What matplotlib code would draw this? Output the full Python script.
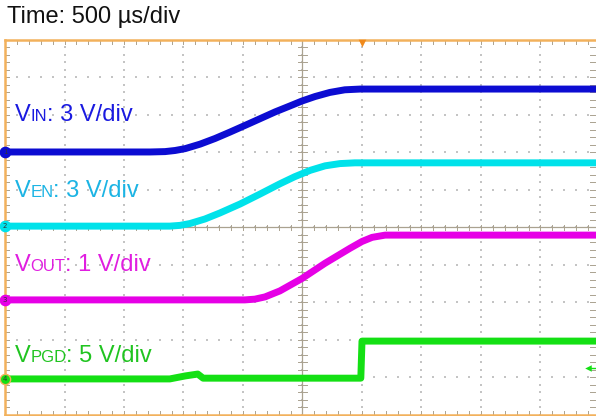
"""
Scope capture: power-up sequence (VIN, VEN, VOUT, VPGD)
"""
import matplotlib
matplotlib.use("Agg")
import matplotlib.pyplot as plt
import numpy as np

# screen units: x in divisions (500 us/div), y in divisions from bottom of screen
vin_t = [0.00, 2.44, 2.69, 2.86, 3.03, 3.28, 3.53, 3.78, 4.12, 4.54, 4.79, 4.99, 5.21, 5.46, 5.71, 5.97, 10.0]
vin_y = [7.01, 7.01, 7.02, 7.05, 7.10, 7.22, 7.37, 7.54, 7.78, 8.08, 8.24, 8.37, 8.49, 8.60, 8.67, 8.69, 8.69]

ven_t = [0.00, 2.77, 2.94, 3.11, 3.36, 3.61, 3.95, 4.29, 4.62, 4.87, 5.13, 5.38, 5.63, 5.88, 10.0]
ven_y = [5.03, 5.03, 5.05, 5.10, 5.22, 5.38, 5.62, 5.89, 6.16, 6.35, 6.52, 6.64, 6.70, 6.72, 6.72]

vout_t = [0.00, 4.03, 4.20, 4.37, 4.62, 4.99, 5.38, 5.80, 6.00, 6.17, 6.39, 10.0]
vout_y = [3.06, 3.06, 3.08, 3.14, 3.30, 3.63, 4.04, 4.44, 4.62, 4.73, 4.79, 4.79]

vpgd_t = [0.00, 2.77, 3.03, 3.24, 3.33, 5.98, 6.00, 10.0]
vpgd_y = [0.95, 0.95, 1.03, 1.08, 0.97, 0.97, 1.96, 1.96]

channels = [
    # (t, y, trace colour, label colour, subscript, scale text, label baseline y)
    (vin_t, vin_y, "#0c0cd2", "#1a1ae0", "IN", ": 3 V/div", 7.83),
    (ven_t, ven_y, "#00e2ea", "#1cb4e4", "EN", ": 3 V/div", 5.80),
    (vout_t, vout_y, "#e600e6", "#e01ee0", "OUT", ": 1 V/div", 3.82),
    (vpgd_t, vpgd_y, "#14e014", "#20c420", "PGD", ": 5 V/div", 1.40),
]

FRAME = "#f2b15c"
TICK = "#aaa290"
DOT = "#c4c4c4"

fig = plt.figure(figsize=(5.96, 4.16), dpi=100)
fig.patch.set_facecolor("white")
W, H = 596.0, 416.0
ax = fig.add_axes([5 / W, 1.5 / H, 595 / W, 374.5 / H])
ax.set_xlim(0, 10)
ax.set_ylim(0, 10)
ax.set_xticks([])
ax.set_yticks([])
for side in ["left", "top", "bottom"]:
    ax.spines[side].set_color(FRAME)
    ax.spines[side].set_linewidth(1.8)
ax.spines["right"].set_visible(False)

# dotted graticule
minor = np.arange(0, 10.01, 0.2)
for g in range(1, 10):
    ax.scatter(np.full(minor.size, g), minor, s=0.6, c=DOT, marker="s", lw=0, zorder=1)
    ax.scatter(minor, np.full(minor.size, g), s=0.6, c=DOT, marker="s", lw=0, zorder=1)

# centre crosshair with minor ticks
ax.axvline(5, color=TICK, lw=0.9, zorder=1)
ax.axhline(5, color=TICK, lw=0.9, zorder=1)
for m in minor:
    ax.plot([4.93, 5.07], [m, m], color=TICK, lw=0.7, zorder=1)
    ax.plot([m, m], [4.93, 5.07], color=TICK, lw=0.7, zorder=1)
    # edge ticks
    ax.plot([m, m], [9.9, 10], color=TICK, lw=0.7, zorder=1)
    ax.plot([m, m], [0, 0.1], color=TICK, lw=0.7, zorder=1)
    ax.plot([0, 0.06], [m, m], color=TICK, lw=0.7, zorder=1)
    ax.plot([9.84, 9.92], [m, m], color=TICK, lw=0.7, zorder=1)

# traces
for i, (t, y, col, lcol, sub, scale, ly) in enumerate(channels):
    ax.plot(t, y, color=col, lw=5.0, solid_capstyle="butt", solid_joinstyle="round", zorder=3)
    ax.scatter([0], [y[0]], s=55, c=col, edgecolors=FRAME if i == 3 else col,
               lw=1.0, zorder=5, clip_on=False)
    ax.text(0, y[0], str(i + 1), fontsize=5, color="#333333", ha="center",
            va="center", zorder=6, clip_on=False)

# trigger markers
ax.scatter([6.0], [9.93], marker="v", s=30, c="#f08a1c", lw=0, zorder=6, clip_on=False)
ax.plot([9.82, 9.95], [1.25, 1.25], color="#14e014", lw=1.0, zorder=6)
ax.scatter([9.8], [1.25], marker="<", s=22, c="#14e014", lw=0, zorder=6)

# labels: "V" + small subscript + scale
fig.canvas.draw()
renderer = fig.canvas.get_renderer()
fam = ["Liberation Sans", "DejaVu Sans"]
for t, y, col, lcol, sub, scale, ly in channels:
    x0 = 0.16
    t1 = ax.text(x0, ly, "V", fontsize=17, color=lcol, family=fam, va="baseline", zorder=7)
    bb = t1.get_window_extent(renderer)
    xd = ax.transData.inverted().transform((bb.x1, 0))[0]
    t2 = ax.text(xd, ly, sub, fontsize=12, color=lcol, family=fam, va="baseline", zorder=7)
    bb = t2.get_window_extent(renderer)
    xd = ax.transData.inverted().transform((bb.x1, 0))[0]
    ax.text(xd, ly, scale, fontsize=17, color=lcol, family=fam, va="baseline", zorder=7)

fig.text(7 / W, 1 - 17 / H, "Time: 500 \u00b5s/div", fontsize=17, color="#111111",
         family=fam, va="center", ha="left")

fig.savefig("out.png", dpi=100, facecolor="white")
